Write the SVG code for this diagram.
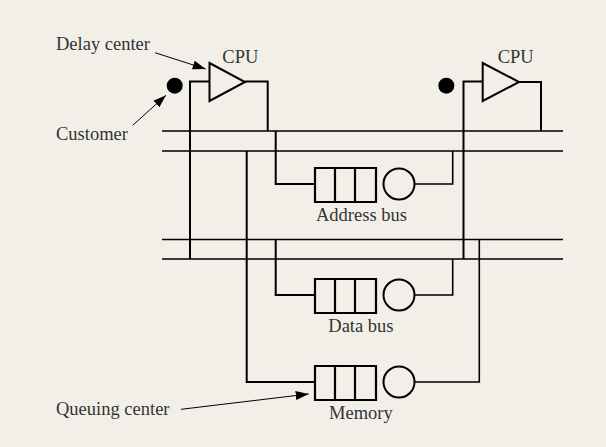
<svg xmlns="http://www.w3.org/2000/svg" width="606" height="447" viewBox="0 0 606 447">
<style>
.l{fill:none;stroke:#000;stroke-width:1.6}
.s{fill:none;stroke:#000;stroke-width:2}
.q{fill:none;stroke:#000;stroke-width:2.200}
.a{fill:none;stroke:#000;stroke-width:1}
text{font-family:"Liberation Serif","Times New Roman",serif;font-size:18.500px;fill:#333}
</style>
<defs>
<marker id="ah" markerUnits="userSpaceOnUse" markerWidth="14" markerHeight="10" refX="13" refY="5" orient="auto"><path d="M0,0.500L13,5L0,9.500z" fill="#000"/></marker>
</defs>
<rect width="606" height="447" fill="#f2efe9"/>
<g id="connectors">
<path class="l" d="M162 131H563M162 151H563M162 239.500H563M162 259H563"/>
<path class="s" d="M209.500 81.500H190V259M245 81.500H267.700V131M482.700 81.500H463.500V259M519 82H541V131"/>
<path class="s" d="M275.700 131V184H315M275.700 239.500V295H315M246.700 151V382H315"/>
<path class="l" d="M415 184H452.700V151M415 295H452.700V259M415 382H479.300V239.500"/>
<path class="a" marker-end="url(#ah)" d="M155 52.700L205.700 69"/>
<path class="a" marker-end="url(#ah)" d="M132.700 125.300L166 95.300"/>
<path class="a" marker-end="url(#ah)" d="M181 409.300L308.700 394"/>
</g>
<g id="cpu1"><path class="s" d="M209.500 63V101L245 82z"/><text x="222.300" y="63.300">CPU</text></g>
<g id="customer1"><circle cx="174.700" cy="85.700" r="8" fill="#000"/></g>
<g id="cpu2"><path class="s" d="M482.700 63V101L519 82z"/><text x="497.700" y="63.300">CPU</text></g>
<g id="customer2"><circle cx="446.300" cy="85.700" r="8" fill="#000"/></g>
<g id="address-bus"><path class="q" d="M315 168H376V202H315zM335 168V202M355 168V202"/><circle class="s" cx="399" cy="184" r="15.500"/><text x="316" y="221.300">Address bus</text></g>
<g id="data-bus"><path class="q" d="M315 279H376V313H315zM335 279V313M355 279V313"/><circle class="s" cx="399" cy="295" r="15.500"/><text x="328.300" y="332">Data bus</text></g>
<g id="memory"><path class="q" d="M315 366H376V400H315zM335 366V400M355 366V400"/><circle class="s" cx="399" cy="382" r="15.500"/><text x="329" y="419">Memory</text></g>
<g id="labels">
<text x="56" y="50">Delay center</text>
<text x="56" y="140">Customer</text>
<text x="56" y="415.300">Queuing center</text>
</g>
</svg>
